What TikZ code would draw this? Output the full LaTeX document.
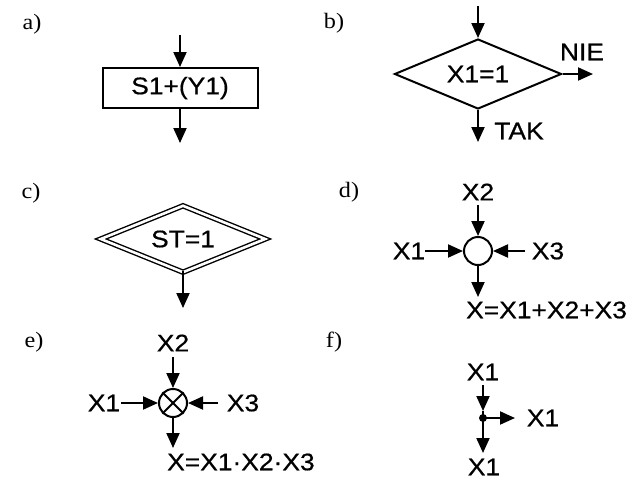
\documentclass[tikz,border=0pt]{standalone}
\usepackage{fontspec}
\newfontfamily\sansf[FakeStretch=1.1,FakeBold=0.6]{Liberation Sans}
\newfontfamily\serff[FakeStretch=1.1]{Liberation Serif}
\usetikzlibrary{arrows.meta,shapes.geometric}
\begin{document}
\begin{tikzpicture}[x=1pt,y=-1pt,
  every node/.style={inner sep=0pt},
  txt/.style={font=\sansf\fontsize{24}{27}\selectfont},
  lbl/.style={font=\serff\fontsize{22}{25}\selectfont},
  ln/.style={line width=2pt},
  arr/.style={ln,-{Triangle[length=15pt 0 0,width=13pt 0]}},
  box/.style={draw,ln,rectangle,minimum width=155pt,minimum height=40pt,txt},
  dia/.style={draw,ln,diamond,aspect=2.4,txt}
]
\useasboundingbox (0,0) rectangle (630,480);
% labels
\node[lbl] (la) at (32,24) {a)};
\node[lbl] (lb) at (334,23) {b)};
\node[lbl] (lc) at (31,193) {c)};
\node[lbl] (ld) at (349,192) {d)};
\node[lbl] (le) at (34,342) {e)};
\node[lbl] (lf) at (334,342) {f)};
% a)
\node[box] (A) at (180,88) {S1+(Y1)};
\coordinate (ain) at (180,35);
\coordinate (aout) at (180,143);
\draw[arr] (ain) -- (A.north);
\draw[arr] (A.south) -- (aout);
% b)
\node[dia,minimum width=167pt,minimum height=70pt] (B) at (478,74) {X1=1};
\coordinate (bin) at (478,6);
\coordinate (bnie) at (593,74);
\coordinate (btak) at (478,142);
\draw[arr] (bin) -- (B.north);
\draw[arr] (B.east) -- (bnie);
\draw[arr] (B.south) -- (btak);
\node[txt] (nie) at (582,52) {NIE};
\node[txt] (tak) at (519,131) {TAK};
% c)
\node[dia,double,double distance=2.6pt,line width=1.4pt,minimum width=165pt,minimum height=67pt] (C) at (183,239) {ST=1};
\coordinate (cout) at (183,308);
\draw[arr] ([yshift=2.5pt]C.south) -- (cout);
% d)
\node[draw,ln,circle,minimum size=28pt] (D) at (478,251) {};
\node[txt] (d2) at (478,192) {X2};
\node[txt] (d1) at (409,251) {X1};
\node[txt] (d3) at (548,251) {X3};
\node[txt,anchor=west] (dx) at (466,310) {X=X1+X2+X3};
\coordinate (d2s) at (478,205);
\coordinate (d1s) at (425,251);
\coordinate (d3s) at (525,251);
\coordinate (dxe) at (478,297);
\draw[arr] (d2s) -- (D.north);
\draw[arr] (d1s) -- (D.west);
\draw[arr] (d3s) -- (D.east);
\draw[arr] (D.south) -- (dxe);
% e)
\node[draw,ln,circle,minimum size=28pt] (E) at (173,403) {};
\draw[ln] (E.45) -- (E.225);
\draw[ln] (E.135) -- (E.315);
\node[txt] (e2) at (173,343) {X2};
\node[txt] (e1) at (104,403) {X1};
\node[txt] (e3) at (243,403) {X3};
\node[txt,anchor=west] (ex) at (167,462) {X=X1·X2·X3};
\coordinate (e2s) at (173,357);
\coordinate (e1s) at (121,403);
\coordinate (e3s) at (218,403);
\coordinate (exe) at (173,448);
\draw[arr] (e2s) -- (E.north);
\draw[arr] (e1s) -- (E.west);
\draw[arr] (e3s) -- (E.east);
\draw[arr] (E.south) -- (exe);
% f)
\node[txt] (f1) at (483,372) {X1};
\node[txt] (f2) at (543,418) {X1};
\node[txt] (f3) at (484,467) {X1};
\coordinate (ftop) at (483,385);
\coordinate (fa) at (483,411);
\node[circle,fill,minimum size=8pt] (fd) at (483,418) {};
\coordinate (fr) at (515,418);
\coordinate (fb) at (483,453);
\draw[arr] (ftop) -- (fa);
\draw[ln] (fa) -- (fd.center);
\draw[arr] (fd.center) -- (fb);
\draw[arr] (fd.center) -- (fr);
\end{tikzpicture}
\end{document}
